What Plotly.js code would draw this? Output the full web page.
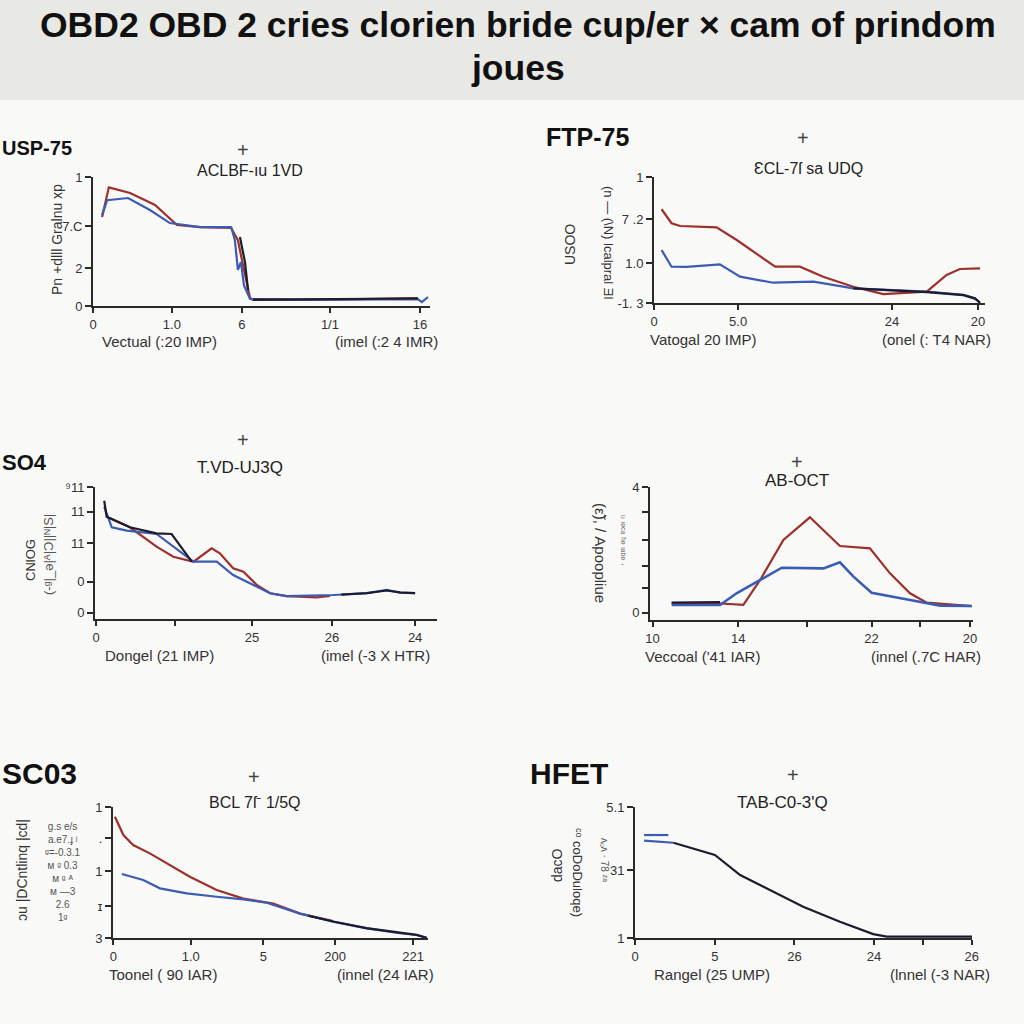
<!DOCTYPE html>
<html>
<head>
<meta charset="utf-8">
<script src="https://cdn.plot.ly/plotly-3.0.1.min.js"></script>
<style>html,body{margin:0;padding:0;background:#f9f9f7;}#chart{width:1024px;height:1024px;}</style>
</head>
<body>
<div id="chart"></div>
<script>
// ---------------- DATA (axis units 0-100) ----------------
// Panel 1: USP-75
const uspRedX  = [2.7, 4.7, 11, 18.4, 24.9, 31.8, 41, 43, 44.5, 46.6, 47.5, 61.4, 79, 96.4];
const uspRedY  = [69, 92, 87.6, 78.3, 62.8, 61.2, 60.5, 51, 31.8, 6.2, 4.7, 4.7, 5.4, 6.2];
const uspBlueX = [2.7, 4.2, 10.4, 16.9, 22.8, 31.8, 41, 42.1, 43, 43.9, 44.8, 46.6, 61.4, 96.4, 97.6, 99.4];
const uspBlueY = [70.5, 82, 83.7, 74.4, 64.3, 61.2, 61.2, 51, 28, 34, 16, 5.4, 4.7, 5.4, 3, 7];
const uspDarkX = [43.6, 45.1, 46.0];
const uspDarkY = [53.5, 34, 12.4];
const uspDark2X = [47.5, 70, 96.4];
const uspDark2Y = [5.0, 5.2, 5.8];
const uspXTicks = [0, 23.4, 44.2, 70.3, 97];
const uspXLabels = ["0", "1.0", "6", "1/1", "16"];
const uspYTicks = [0, 29.5, 62, 100];
const uspYLabels = ["0", "2", "7.C", "1"];

// Panel 2: FTP-75
const ftpRedX  = [2.3, 5.3, 7.9, 18.9, 25, 36.6, 44.1, 51.1, 60.2, 69.3, 82.4, 88.4, 92.4, 98.5];
const ftpRedY  = [74.4, 63.3, 61.1, 60, 50, 28.8, 28.8, 20.9, 12.9, 7.1, 9, 22.2, 27, 27.5];
const ftpBlueX = [2.3, 5.3, 9.9, 19.9, 26, 36, 48.2, 60.2, 82.4, 93.5, 97, 98.5];
const ftpBlueY = [42, 28.8, 28.6, 30.7, 20.9, 16.1, 16.9, 11.6, 9, 6.4, 3.7, 0.2];
const ftpDarkX = [60.2, 70, 82.4, 93.5, 97, 98.5];
const ftpDarkY = [11.6, 10.2, 8.6, 6.2, 3.5, 0.2];
const ftpXTicks = [0, 25.4, 71.9, 97.9];
const ftpXLabels = ["0", "5.0", "24", "20"];
const ftpYTicks = [0, 31.7, 66.7, 100];
const ftpYLabels = ["-1. 3", "1.0", "7 .2", "1"];

// Panel 3: SO4
const so4DarkX = [2.7, 3.4, 4.4, 10.2, 18, 22.4, 28.3];
const so4DarkY = [89.6, 77.5, 76.3, 69.5, 64.9, 64.4, 43.4];
const so4RedX  = [4.4, 10.2, 18, 22.9, 28.8, 34.1, 36.5, 40.4, 43.4, 47.3, 51.2, 56, 64.8, 68.7];
const so4RedY  = [76.3, 69.5, 54.8, 47.2, 43.4, 53.6, 49.8, 38.4, 35.9, 25.8, 19.5, 17.4, 16.4, 17.4];
const so4BlueX = [2.7, 4.9, 9.3, 18, 28.8, 35.6, 40.4, 46.3, 51.2, 56, 69.7, 79.4, 85.3, 89.2, 93.6];
const so4BlueY = [85, 69.5, 66.9, 64.4, 43.4, 43.4, 33.3, 25.8, 19.5, 17.4, 18.2, 19.5, 22, 19.9, 19.5];
const so4Dark2X = [72, 79.4, 85.3, 89.2, 93.6];
const so4Dark2Y = [18.5, 19.6, 21.6, 20.2, 19.6];
const so4XTicks = [0.3, 23.4, 45.9, 69.3, 93.6];
const so4XLabels = ["0", "", "25", "26", "24"];
const so4YTicks = [4.8, 28.3, 57.6, 81.3, 100];
const so4YLabels = ["0", "0", "11", "11", "⁹11"];

// Panel 4: AB-OCT
const abRedX  = [6.7, 20.6, 28.9, 34.1, 41.3, 49.5, 58.8, 68.1, 74.3, 80.5, 85.7, 99.6];
const abRedY  = [12.6, 12.6, 11.3, 30.1, 60.2, 77.2, 55.6, 53.9, 35.1, 20.1, 13, 10.5];
const abBlueX = [6.7, 21.7, 26.8, 34.1, 40.8, 53.7, 58.8, 63, 68.6, 80.5, 89.8, 99.6];
const abBlueY = [11.3, 11.3, 20.1, 30.1, 39.3, 38.8, 43.4, 32.6, 20.5, 15, 10.8, 10.5];
const abDarkX = [6.7, 14, 21.7];
const abDarkY = [13, 13.2, 13.5];
const abXTicks = [0.8, 27.3, 48.5, 68.6, 83.6, 99.1];
const abXLabels = ["10", "14", "", "22", "", "20"];
const abYTicks = [5.5, 23.8, 40.6, 60.2, 81.4, 100];
const abYLabels = ["0", "", "", "", "", "4"];

// Panel 5: SC03
const scRedX  = [0.6, 3.3, 6.4, 11.7, 24.4, 32.9, 41.4, 50.9, 59.4, 69.9];
const scRedY  = [92.6, 78.6, 71, 64.6, 46.8, 36.6, 30.1, 26.3, 18.6, 13];
const scBlueX = [2.8, 9.6, 14.9, 23.4, 32.9, 41.4, 48.8, 59.4, 69.9, 80.5, 91.1, 96.4, 99.6];
const scBlueY = [48.9, 44.3, 37.9, 34.1, 31.5, 29.5, 26.9, 18.6, 12.4, 7.4, 3.6, 2.3, 0];
const scDarkX = [62, 69.9, 80.5, 91.1, 96.4, 99.6];
const scDarkY = [17, 12.6, 7.6, 3.8, 2.4, 0.2];
const scXTicks = [0.1, 24.7, 47.7, 70.5, 95.3];
const scXLabels = ["0", "1.0", "5", "200", "221"];
const scYTicks = [0, 24.4, 51.1, 76, 100];
const scYLabels = ["3", "ɪ", "1", ".", "1"];

// Panel 6: HFET
const hfBlueAX = [2.7, 9.9];
const hfBlueAY = [78.6, 78.6];
const hfBlueBX = [2.7, 11.4];
const hfBlueBY = [74.3, 72.7];
const hfDarkX = [11.4, 17.3, 23.7, 31.2, 40.1, 49.9, 60.8, 70.7, 74.7, 100];
const hfDarkY = [72.7, 68.5, 63.4, 48.1, 36.6, 23.9, 12.4, 3, 1, 1];
const hfXTicks = [0, 23.7, 47.3, 70.9, 85.5, 99.9];
const hfXLabels = ["0", "5", "26", "24", "", "26"];
const hfYTicks = [0, 51.9, 100];
const hfYLabels = ["1", "31", "5.1"];

// ---------------- STYLE / LAYOUT ----------------
const RED = '#9e302c', BLUE = '#3b5cb2', DARK = '#1c1c2e';
const FONT = 'Liberation Sans, Arial, sans-serif';
const W = 1024, H = 1024;
const px = x => x / W;
const py = y => 1 - y / H;

// panel boxes in pixels: [left, right, top, bottom]
const boxes = [
  [93, 430, 177, 306],
  [654, 985, 177, 303],
  [95, 437, 487, 619],
  [650, 973, 487, 620],
  [113, 428, 807, 938],
  [635, 972, 807, 938]
];
const xt = [[uspXTicks, uspXLabels],[ftpXTicks, ftpXLabels],[so4XTicks, so4XLabels],[abXTicks, abXLabels],[scXTicks, scXLabels],[hfXTicks, hfXLabels]];
const yt = [[uspYTicks, uspYLabels],[ftpYTicks, ftpYLabels],[so4YTicks, so4YLabels],[abYTicks, abYLabels],[scYTicks, scYLabels],[hfYTicks, hfYLabels]];

const layout = {
  width: W, height: H,
  margin: {l: 0, r: 0, t: 0, b: 0},
  paper_bgcolor: '#f9f9f7',
  plot_bgcolor: 'rgba(0,0,0,0)',
  showlegend: false,
  shapes: [
    {type: 'rect', xref: 'paper', yref: 'paper', x0: 0, x1: 1, y0: py(100), y1: 1, fillcolor: '#e8e8e5', line: {width: 0}, layer: 'below'}
  ],
  annotations: []
};

boxes.forEach((b, i) => {
  const k = i === 0 ? '' : String(i + 1);
  layout['xaxis' + k] = {
    domain: [px(b[0]), px(b[1])], range: [0, 100], anchor: 'y' + k,
    showgrid: false, zeroline: false, showline: true, linecolor: '#2a2a2a', linewidth: 2,
    ticks: 'outside', ticklen: 5, tickwidth: 2, tickcolor: '#2a2a2a',
    tickmode: 'array', tickvals: xt[i][0], ticktext: xt[i][1],
    tickfont: {family: FONT, size: 13, color: '#333'}, fixedrange: true
  };
  layout['yaxis' + k] = {
    domain: [py(b[3]), py(b[2])], range: [0, 100], anchor: 'x' + k,
    showgrid: false, zeroline: false, showline: true, linecolor: '#2a2a2a', linewidth: 2,
    ticks: 'outside', ticklen: 6, tickwidth: 2, tickcolor: '#2a2a2a',
    tickmode: 'array', tickvals: yt[i][0], ticktext: yt[i][1],
    tickfont: {family: FONT, size: 13, color: '#333'}, fixedrange: true
  };
});

function line(x, y, color, ax, w) {
  const k = ax === 1 ? '' : String(ax);
  return {type: 'scatter', mode: 'lines', x: x, y: y, xaxis: 'x' + k, yaxis: 'y' + k,
          line: {color: color, width: w || 2.2}, hoverinfo: 'skip'};
}

const data = [
  line(uspRedX, uspRedY, RED, 1), line(uspBlueX, uspBlueY, BLUE, 1), line(uspDarkX, uspDarkY, DARK, 1), line(uspDark2X, uspDark2Y, DARK, 1),
  line(ftpRedX, ftpRedY, RED, 2), line(ftpBlueX, ftpBlueY, BLUE, 2), line(ftpDarkX, ftpDarkY, DARK, 2),
  line(so4RedX, so4RedY, RED, 3), line(so4BlueX, so4BlueY, BLUE, 3), line(so4DarkX, so4DarkY, DARK, 3), line(so4Dark2X, so4Dark2Y, DARK, 3),
  line(abRedX, abRedY, RED, 4), line(abBlueX, abBlueY, BLUE, 4, 2.6), line(abDarkX, abDarkY, DARK, 4),
  line(scRedX, scRedY, RED, 5), line(scBlueX, scBlueY, BLUE, 5), line(scDarkX, scDarkY, DARK, 5),
  line(hfBlueAX, hfBlueAY, BLUE, 6), line(hfBlueBX, hfBlueBY, BLUE, 6), line(hfDarkX, hfDarkY, DARK, 6)
];

function ann(text, x, y, opts) {
  const o = opts || {};
  layout.annotations.push(Object.assign({
    text: text, xref: 'paper', yref: 'paper', x: px(x), y: py(y),
    xanchor: o.xanchor || 'center', yanchor: 'middle', showarrow: false,
    textangle: o.angle || 0,
    font: {family: o.family || FONT, size: o.size || 15, color: o.color || '#222'}
  }, o.extra || {}));
}

// main title
ann('<b>OBD2 OBD 2 cries clorien bride cup/er × cam of prindom</b>', 518, 25, {size: 35.5, color: '#111'});
ann('<b>joues</b>', 518, 68, {size: 35.5, color: '#111'});

// panel labels
ann('<b>USP-75</b>', 0, 148, {xanchor: 'left', size: 20, color: '#111'});
ann('<b>FTP-75</b>', 544, 137, {xanchor: 'left', size: 25, color: '#111'});
ann('<b>SO4</b>', 0, 462, {xanchor: 'left', size: 22, color: '#111'});
ann('<b>SC03</b>', 0, 773, {xanchor: 'left', size: 30, color: '#111'});
ann('<b>HFET</b>', 528, 773, {xanchor: 'left', size: 30, color: '#111'});

// crosses and subtitles
[[243, 150], [803, 138], [243, 440], [797, 462], [254, 777], [793, 775]].forEach(p => ann('+', p[0], p[1], {size: 20, color: '#444'}));
ann('ACLBF-ıu 1VD', 250, 170, {size: 16});
ann('ƐCL-7ſ sa UDQ', 808, 168, {size: 16});
ann('T.VD-UJ3Q', 240, 467, {size: 17});
ann('AB-OCT', 797, 480, {size: 17});
ann('BCL 7ſ⁻ 1/5Q', 255, 802, {size: 16});
ann('TAB-C0-3\'Q', 782, 802, {size: 17});

// x axis labels
ann('Vectual (:20 IMP)', 100, 341, {xanchor: 'left', size: 15, color: '#333'});
ann('(imel (:2 4 IMR)', 440, 341, {xanchor: 'right', size: 15, color: '#333'});
ann('Vatogal 20 IMP)', 648, 339, {xanchor: 'left', size: 15, color: '#333'});
ann('(onel (: T4 NAR)', 993, 339, {xanchor: 'right', size: 15, color: '#333'});
ann('Dongel (21 IMP)', 103, 655, {xanchor: 'left', size: 15, color: '#333'});
ann('(imel (-3 X HTR)', 432, 655, {xanchor: 'right', size: 15, color: '#333'});
ann('Veccoal (\'41 IAR)', 643, 656, {xanchor: 'left', size: 15, color: '#333'});
ann('(innel (.7C HAR)', 983, 656, {xanchor: 'right', size: 15, color: '#333'});
ann('Toonel ( 90 IAR)', 107, 974, {xanchor: 'left', size: 15, color: '#333'});
ann('(innel (24 IAR)', 436, 974, {xanchor: 'right', size: 15, color: '#333'});
ann('Rangel (25 UMP)', 652, 974, {xanchor: 'left', size: 15, color: '#333'});
ann('(lnnel (-3 NAR)', 992, 974, {xanchor: 'right', size: 15, color: '#333'});

// y axis labels (rotated)
ann('Pn +dlll Gralnu xp', 57, 240, {angle: -90, size: 14, color: '#333'});
ann('USOO', 570, 245, {angle: -90, size: 14, color: '#333'});
ann('(n — (\\N) lcalpral Ǝl', 609, 243, {angle: 90, size: 13, color: '#333'});
ann('CNlOG', 30, 560, {angle: -90, size: 13, color: '#333'});
ann('(-ᵍ|_ǝ|ᴬ|Ɔ||ᴺ|S|', 48, 555, {angle: -90, size: 13, color: '#555'});
ann('(ε̃), / Apoopliue', 601, 553, {angle: 90, size: 15, color: '#333'});
ann('ᵘ ᶦᵉᶜᵃ ᶠᶦᵉ ᶦᵃᵇᵉ ·', 623, 540, {angle: 90, size: 10, color: '#666'});
ann('ɔu |DCntlinq |cd|', 22, 870, {angle: -90, size: 14, color: '#333'});
ann('g.s e/s<br>a.e7.ɟ ʲ<br>ᵍ=-0.3.1<br>ᴍ ᵍ 0.3<br>ᴍ ᵍ ᴬ<br>ᴍ —3<br>2.6<br>1ᵍ', 63, 872, {size: 10, color: '#555', extra: {align: 'center'}});
ann('dacO', 557, 865, {angle: -90, size: 14, color: '#333'});
ann('ᶜᵒ coDoDuloqe)', 578, 872, {angle: 90, size: 13, color: '#333'});
ann('ᴧᵤᴧ · 78 ᶻᵃ', 605, 860, {angle: 90, size: 10, color: '#555'});

Plotly.newPlot('chart', data, layout, {staticPlot: true, displayModeBar: false});
</script>
</body>
</html>
